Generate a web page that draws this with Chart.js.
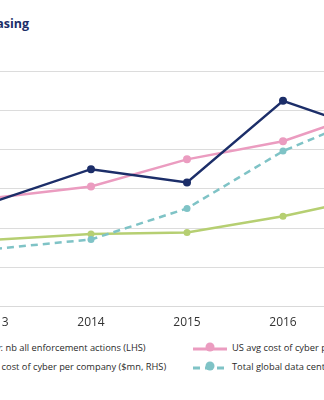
<!DOCTYPE html>
<html>
<head>
<meta charset="utf-8">
<script src="https://cdn.jsdelivr.net/npm/chart.js@4"></script>
<style>
  body { margin: 0; width: 324px; height: 400px; overflow: hidden; position: relative; background: #fff; font-family: "Open Sans", sans-serif; }
  #title { position: absolute; right: 295px; top: 15px; white-space: nowrap; font-weight: 700; font-size: 12.5px; color: #1c2e69; }
  #chart { position: absolute; left: -80px; top: 0; }
  #legend { position: absolute; top: 340px; left: -85px; display: grid; grid-template-columns: 278px 278px; row-gap: 4px; font-size: 9.3px; color: #2a2a2a; }
  .item { display: flex; align-items: center; white-space: nowrap; height: 15px; }
  .item svg { margin-right: 5px; flex: none; }
</style>
</head>
<body>
<div id="title">Cyber risks and their costs are increasing</div>
<canvas id="chart" width="504" height="339"></canvas>
<div id="legend"></div>
<script>
const years = ['2013', '2014', '2015', '2016', '2017']

// LHS: number of enforcement actions
const enforcementActions = [134, 175, 158, 262, 220]

// RHS: $mn
const usCyberCost = [2.77, 3.06, 3.75, 4.21, 5.05]
const dataCentreSpend = [1.47, 1.71, 2.50, 3.96, 4.98]
const globalCyberCost = [1.70, 1.85, 1.89, 2.30, 2.83]

const series = [
  { label: 'Regulatory: nb all enforcement actions (LHS)', data: enforcementActions, color: '#1c2e69', axis: 'y', radius: 4 },
  { label: 'US avg cost of cyber per company ($mn, RHS)', data: usCyberCost, color: '#eb9cc0', axis: 'y1', radius: 4 },
  { label: 'Total global data centre spending ($bn, RHS)', data: dataCentreSpend, color: '#7fc3c6', axis: 'y1', radius: 3.5, dash: [7, 5] },
  { label: 'Global avg cost of cyber per company ($mn, RHS)', data: globalCyberCost, color: '#b6cf72', axis: 'y1', radius: 3.5 }
]

// legend reads row by row: navy, pink / green, teal
const legendOrder = [0, 1, 3, 2]

new Chart(document.getElementById('chart'), {
  type: 'line',
  data: {
    labels: years,
    datasets: series.map((s) => ({
      label: s.label,
      data: s.data,
      yAxisID: s.axis,
      borderColor: s.color,
      backgroundColor: s.color,
      borderWidth: 2.5,
      borderDash: s.dash || [],
      pointRadius: s.radius,
      pointBorderWidth: 0,
      tension: 0
    }))
  },
  options: {
    responsive: false,
    animation: false,
    devicePixelRatio: 1,
    layout: { padding: { top: 71, left: 0, right: 0, bottom: 0 } },
    plugins: { legend: { display: false }, tooltip: { enabled: false } },
    scales: {
      x: {
        offset: false,
        grid: { display: false, drawTicks: false },
        border: { display: true, color: '#d9d9d9', width: 1 },
        ticks: { color: '#333', font: { family: 'Open Sans', size: 12 }, padding: 9, maxRotation: 0, autoSkip: false }
      },
      y: {
        position: 'left',
        min: 0,
        max: 300,
        ticks: { stepSize: 50 },
        grid: { color: '#dcdcdc', drawTicks: false },
        border: { display: false },
        afterFit: (scale) => { scale.width = 75 }
      },
      y1: {
        position: 'right',
        min: 0,
        max: 6,
        ticks: { stepSize: 1 },
        grid: { display: false },
        border: { display: false },
        afterFit: (scale) => { scale.width = 45 }
      }
    }
  }
})

function sample (s) {
  const dash = s.dash ? ` stroke-dasharray="${s.dash.join(' ')}"` : ''
  return `<svg width="34" height="12"><line x1="0" y1="7" x2="34" y2="7" stroke="${s.color}" stroke-width="3"${dash}/>` +
    `<circle cx="17" cy="5" r="4.5" fill="${s.color}"/></svg>`
}

document.getElementById('legend').innerHTML = legendOrder
  .map((i) => `<div class="item">${sample(series[i])}<span>${series[i].label}</span></div>`)
  .join('')
</script>
</body>
</html>
